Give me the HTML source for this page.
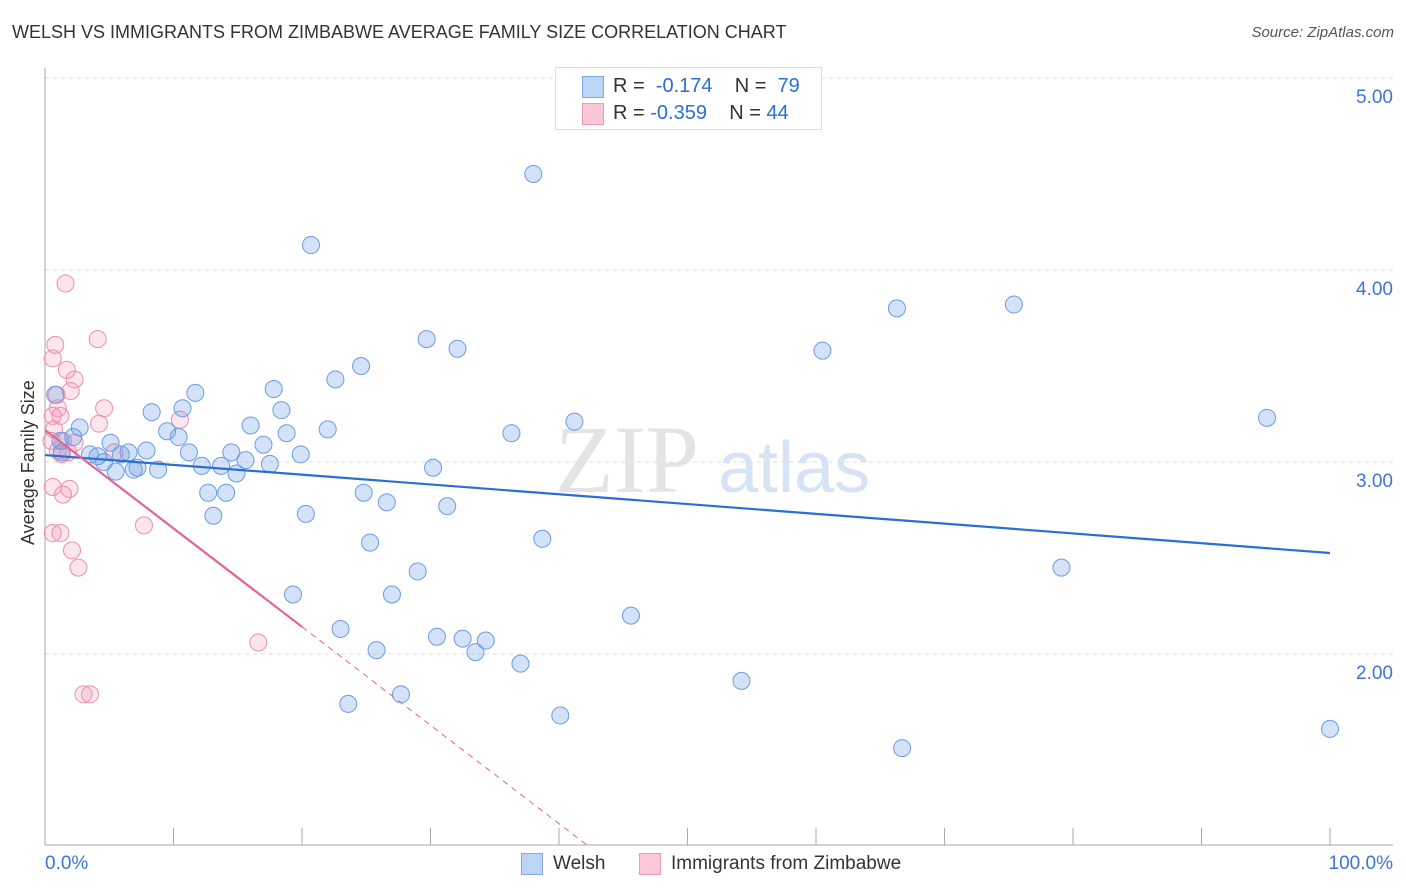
<!DOCTYPE html>
<html><head><meta charset="utf-8">
<style>
body{margin:0;background:#fff;font-family:"Liberation Sans",sans-serif;}
#wrap{position:relative;width:1406px;height:892px;overflow:hidden;}
.t{position:absolute;white-space:nowrap;}
</style></head>
<body>
<div id="wrap">
<div class="t" style="left:12px;top:22px;font-size:18px;color:#333;">WELSH VS IMMIGRANTS FROM ZIMBABWE AVERAGE FAMILY SIZE CORRELATION CHART</div>
<div class="t" style="right:12px;top:24px;font-size:15px;color:#555;font-style:italic;">Source: ZipAtlas.com</div>
<svg id="svg" width="1406" height="892" style="position:absolute;left:0;top:0"></svg>
</div>
<script>
const welshX=[47.5,38.0,20.7,66.3,75.4,60.5,29.7,32.1,24.6,22.6,11.7,17.8,8.3,10.7,18.4,41.2,95.1,16.0,2.7,9.5,10.4,22.0,18.8,36.3,17.0,5.1,2.2,7.9,11.2,14.5,6.5,3.5,4.1,5.9,1.3,19.9,4.6,15.6,17.5,12.2,13.7,7.2,8.8,5.5,6.9,14.9,30.2,24.8,12.7,14.1,26.6,31.3,20.3,13.1,38.7,25.3,29.0,79.1,19.3,27.0,45.6,23.0,30.5,32.5,34.3,33.5,25.8,37.0,54.2,27.7,23.6,40.1,66.7,100,0.8,1.2];
const welshY=[4.99,4.50,4.13,3.80,3.82,3.58,3.64,3.59,3.50,3.43,3.36,3.38,3.26,3.28,3.27,3.21,3.23,3.19,3.18,3.16,3.13,3.17,3.15,3.15,3.09,3.10,3.13,3.06,3.05,3.05,3.05,3.04,3.03,3.04,3.05,3.04,3.00,3.01,2.99,2.98,2.98,2.97,2.96,2.95,2.96,2.94,2.97,2.84,2.84,2.84,2.79,2.77,2.73,2.72,2.60,2.58,2.43,2.45,2.31,2.31,2.20,2.13,2.09,2.08,2.07,2.01,2.02,1.95,1.86,1.79,1.74,1.68,1.51,1.61,3.35,3.11];
const zimX=[1.6,4.1,0.8,0.6,1.7,2.3,2.0,0.9,4.6,1.0,0.6,1.2,10.5,4.2,0.7,0.5,1.4,2.3,1.0,1.8,1.3,5.4,0.6,1.9,1.4,7.7,0.6,1.2,2.1,2.6,16.6,3.0,3.5];
const zimY=[3.93,3.64,3.61,3.54,3.48,3.43,3.37,3.35,3.28,3.28,3.24,3.24,3.22,3.20,3.17,3.11,3.11,3.10,3.06,3.05,3.04,3.05,2.87,2.86,2.83,2.67,2.63,2.63,2.54,2.45,2.06,1.79,1.79];
const yTicks=[5,4,3,2];
const yTickLabels=["5.00","4.00","3.00","2.00"];
const welshTrend=[3.036,2.526];
const zimTrend=[3.167,-1.96];
const NS="http://www.w3.org/2000/svg";
const svg=document.getElementById('svg');
const X=v=>45+v*12.85;
const Y=v=>462-(v-3)*192;
function mk(tag,attrs){const e=document.createElementNS(NS,tag);for(const k in attrs)e.setAttribute(k,attrs[k]);svg.appendChild(e);return e;}
// grid
yTicks.forEach((t,i)=>{
 const g=mk('line',{x1:45,x2:1393,y1:Y(t),y2:Y(t),stroke:'#ddd','stroke-dasharray':'4,4'});
 
 
 const tx=mk('text',{x:1393,y:Y(t)+25,'text-anchor':'end','font-size':19,fill:'#3b76d6','font-family':'Liberation Sans'});
 tx.textContent=yTickLabels[i];
 
 
});
let ax=mk('line',{x1:45,x2:45,y1:68,y2:845,stroke:'#aaa'});


let bx=mk('line',{x1:45,x2:1393,y1:845,y2:845,stroke:'#aaa'});


for(let i=0;i<=10;i++){
 const tk=mk('line',{x1:X(i*10),x2:X(i*10),y1:828,y2:845,stroke:'#aaa'});
 
 
}
// watermark
let wm=mk('text',{x:555,y:492,'font-size':96,fill:'#e4e4e4','font-family':'Liberation Serif'});wm.textContent='ZIP';


let wm2=mk('text',{x:718,y:492,'font-size':72,fill:'#d6e3f5','font-family':'Liberation Sans'});wm2.textContent='atlas';


// points
zimX.forEach((x,i)=>{const c=mk('circle',{cx:X(x),cy:Y(zimY[i]),r:8.5,fill:'rgba(245,150,180,0.25)',stroke:'#ec8fae','stroke-width':1});
 
 });
welshX.forEach((x,i)=>{const c=mk('circle',{cx:X(x),cy:Y(welshY[i]),r:8.5,fill:'rgba(110,160,230,0.3)',stroke:'#6b9de2','stroke-width':1});
 
 });
// trends
let bl=mk('line',{x1:X(0),y1:Y(welshTrend[0]),x2:X(100),y2:Y(welshTrend[1]),stroke:'#2a6fd6','stroke-width':2.2});


const zy=x=>zimTrend[0]+(zimTrend[1]-zimTrend[0])*x/100;
let pl=mk('line',{x1:X(0),y1:Y(zy(0)),x2:X(20),y2:Y(zy(20)),stroke:'#e5648f','stroke-width':2.2});


const xe=(zimTrend[0]-1)/(zimTrend[0]-zimTrend[1])*100;
let pd=mk('line',{x1:X(20),y1:Y(zy(20)),x2:X(xe),y2:Y(1),stroke:'#e5648f','stroke-width':1,'stroke-dasharray':'6,5'});


</script>
<div class="t" style="left:555px;top:67px;width:265px;height:61px;border:1px solid #ddd;background:#fff;">
 <div class="t" style="left:26px;top:8px;width:20px;height:20px;background:#bcd5f5;border:1px solid #7fa8e6;"></div>
 <div class="t" style="left:57px;top:7px;font-size:20px;color:#333;">R = &nbsp;<span style="color:#2a6fd6">-0.174</span>&nbsp;&nbsp;&nbsp; N = &nbsp;<span style="color:#2a6fd6">79</span></div>
 <div class="t" style="left:26px;top:35px;width:20px;height:20px;background:#fcc8d7;border:1px solid #ec9ab4;"></div>
 <div class="t" style="left:57px;top:34px;font-size:20px;color:#333;">R = <span style="color:#2a6fd6">-0.359</span>&nbsp;&nbsp;&nbsp; N = <span style="color:#2a6fd6">44</span></div>
</div>
<div class="t" style="left:18px;top:545px;font-size:18px;color:#333;transform:rotate(-90deg);transform-origin:0 0;">Average Family Size</div>
<div class="t" style="left:45px;top:853px;font-size:19px;color:#3b76d6;">0.0%</div>
<div class="t" style="right:13px;top:853px;font-size:19px;color:#3b76d6;">100.0%</div>
<div class="t" style="left:521px;top:853px;width:20px;height:20px;background:#bcd5f5;border:1px solid #7fa8e6;"></div>
<div class="t" style="left:553px;top:853px;font-size:19px;color:#333;">Welsh</div>
<div class="t" style="left:639px;top:853px;width:20px;height:20px;background:#fcc8d7;border:1px solid #ec9ab4;"></div>
<div class="t" style="left:671px;top:853px;font-size:19px;color:#333;">Immigrants from Zimbabwe</div>
</body></html>
